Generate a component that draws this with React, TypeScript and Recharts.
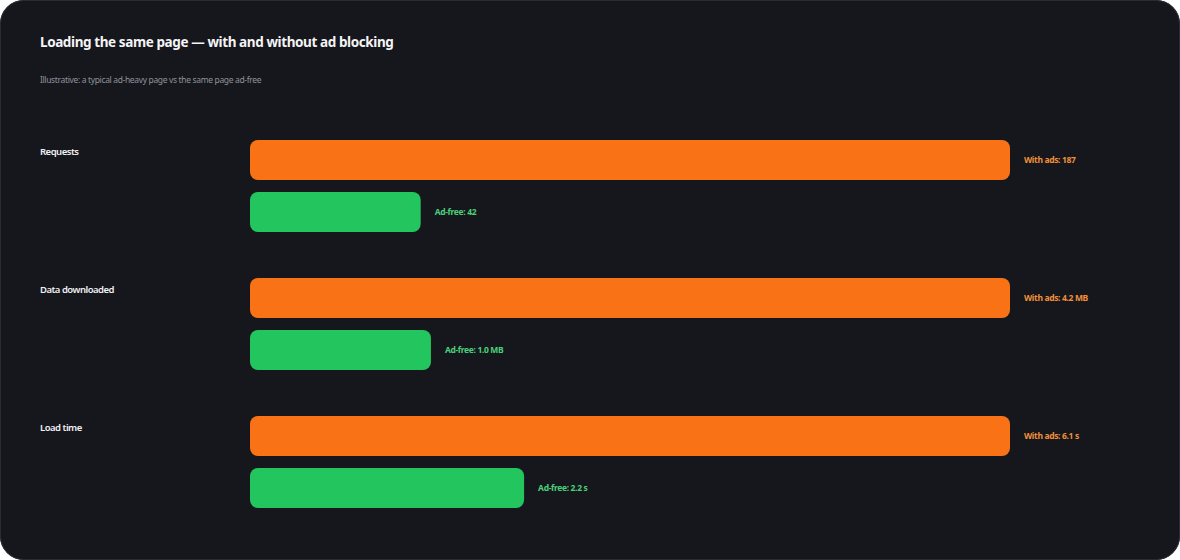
import React from "react";
import { BarChart, Bar, XAxis, YAxis, LabelList } from "recharts";

const categories = ["Requests", "Data downloaded", "Load time"];
const withAdsValues = [187, 4.2, 6.1];
const adFreeValues = [42, 1.0, 2.2];
const units = ["", " MB", " s"];
const decimals = [0, 1, 1];

const data = categories.map((c, i) => ({
  category: c,
  withAds: 100,
  adFree: (adFreeValues[i] / withAdsValues[i]) * 100,
  withAdsLabel: `With ads: ${withAdsValues[i].toFixed(decimals[i])}${units[i]}`,
  adFreeLabel: `Ad-free: ${adFreeValues[i].toFixed(decimals[i])}${units[i]}`,
}));

const FONT = "'Noto Sans', sans-serif";

const CategoryTick = (props: any) => {
  const { y, payload } = props;
  return (
    <text
      x={40}
      y={y - 34}
      fill="#f1f1f4"
      fontSize={9.5}
      fontWeight={600}
      letterSpacing={-0.5}
      fontFamily={FONT}
      dominantBaseline="middle"
    >
      {payload.value}
    </text>
  );
};

export default function App() {
  return (
    <div style={{ width: 1180, height: 560, background: "#ffffff", position: "relative" }}>
      <style>{"body{margin:0;}"}</style>
      <div
        style={{
          position: "absolute",
          inset: 0,
          background: "#16171c",
          borderRadius: 24,
          boxShadow: "inset 0 0 0 1px #2a2b33",
          fontFamily: FONT,
        }}
      >
        <div
          style={{
            position: "absolute",
            left: 40,
            top: 33,
            color: "#f4f4f6",
            fontSize: 13.5,
            fontWeight: 700,
            letterSpacing: -0.4,
          }}
        >
          Loading the same page — with and without ad blocking
        </div>
        <div
          style={{
            position: "absolute",
            left: 40,
            top: 74,
            color: "#8f929c",
            fontSize: 8.5,
            letterSpacing: -0.35,
          }}
        >
          Illustrative: a typical ad-heavy page vs the same page ad-free
        </div>
      </div>
      <div style={{ position: "absolute", left: 0, top: 0 }}>
        <BarChart
          width={1180}
          height={560}
          data={data}
          layout="vertical"
          margin={{ top: 117, right: 170, bottom: 29, left: 0 }}
          barGap={12}
          barCategoryGap={23}
        >
          <XAxis type="number" domain={[0, 100]} hide />
          <YAxis
            type="category"
            dataKey="category"
            width={250}
            axisLine={false}
            tickLine={false}
            tick={<CategoryTick />}
          />
          <Bar dataKey="withAds" fill="#f97316" barSize={40} radius={8} isAnimationActive={false}>
            <LabelList
              dataKey="withAdsLabel"
              position="right"
              offset={14}
              fill="#f0913a"
              fontSize={8.5}
              fontWeight={700}
              letterSpacing={-0.35}
              fontFamily={FONT}
            />
          </Bar>
          <Bar dataKey="adFree" fill="#22c55e" barSize={40} radius={8} isAnimationActive={false}>
            <LabelList
              dataKey="adFreeLabel"
              position="right"
              offset={14}
              fill="#4ad07a"
              fontSize={8.5}
              fontWeight={700}
              letterSpacing={-0.35}
              fontFamily={FONT}
            />
          </Bar>
        </BarChart>
      </div>
    </div>
  );
}
